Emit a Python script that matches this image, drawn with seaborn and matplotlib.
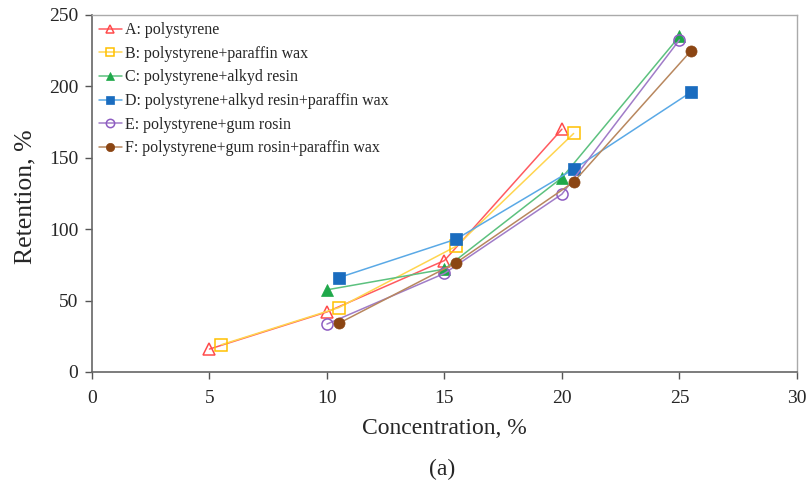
import matplotlib
matplotlib.use("Agg")
import matplotlib.pyplot as plt
import seaborn as sns
import pandas as pd

labels = ["A: polystyrene", "B: polystyrene+paraffin wax", "C: polystyrene+alkyd resin",
          "D: polystyrene+alkyd resin+paraffin wax", "E: polystyrene+gum rosin",
          "F: polystyrene+gum rosin+paraffin wax"]
x_A = [5, 10, 15, 20]
y_A = [16, 42, 78, 170]
x_B = [5.5, 10.5, 15.5, 20.5]
y_B = [19, 45, 88, 167]
x_C = [10, 15, 20, 25]
y_C = [57.5, 72, 136, 235]
x_D = [10.5, 15.5, 20.5, 25.5]
y_D = [66, 93, 142, 196]
x_E = [10, 15, 20, 25]
y_E = [33.5, 69, 124.5, 232.5]
x_F = [10.5, 15.5, 20.5, 25.5]
y_F = [34, 76.5, 133, 225]

xs = [x_A, x_B, x_C, x_D, x_E, x_F]
ys = [y_A, y_B, y_C, y_D, y_E, y_F]

line_colors = ["#FF5A5F", "#FFD54F", "#5CC17F", "#5AA9E6", "#A07CC8", "#B8875E"]
mk_colors = ["#FF4B4B", "#FFC000", "#1FA84A", "#1A6CBF", "#8E5CC2", "#8B4513"]
markers = ["^", "s", "^", "s", "o", "o"]
filled = [False, False, True, True, False, True]

sns.set_theme(style="white")
plt.rcParams["font.family"] = ["Liberation Serif", "DejaVu Serif"]

fig = plt.figure(figsize=(8.09, 4.83), dpi=100)
ax = fig.add_axes([0.1137, 0.23, 0.8713, 0.739])

for i in range(6):
    df = pd.DataFrame({"x": xs[i], "y": ys[i]})
    sns.lineplot(data=df, x="x", y="y", ax=ax, color=line_colors[i], linewidth=1.1,
                 marker=markers[i], markersize=8,
                 markerfacecolor=mk_colors[i] if filled[i] else "none",
                 markeredgecolor=mk_colors[i], markeredgewidth=1.1 if not filled[i] else 0.5,
                 label=labels[i], sort=False)

ax.set_xlim(0, 30)
ax.set_ylim(0, 250)
ax.set_xticks(range(0, 31, 5))
ax.set_yticks(range(0, 251, 50))
ax.tick_params(axis="both", labelsize=14, direction="out", length=5, width=1,
               color="#555555", bottom=True, left=True)
ax.tick_params(axis="x", pad=8)
ax.tick_params(axis="y", pad=5)
for s in ["left", "bottom"]:
    ax.spines[s].set_color("#666666")
    ax.spines[s].set_linewidth(1.2)
for s in ["top", "right"]:
    ax.spines[s].set_color("#AAAAAA")
    ax.spines[s].set_linewidth(1.0)
ax.set_xlabel("Concentration, %", fontsize=17, labelpad=8)
ax.set_ylabel("Retention, %", fontsize=18.5)
ax.yaxis.set_label_coords(-0.079, 0.49)
ax.grid(False)

leg = ax.legend(loc="upper left", frameon=False, fontsize=11.5, handlelength=1.4,
                handletextpad=0.2, labelspacing=0.48, markerscale=0.75,
                borderaxespad=0.25, borderpad=0.2, bbox_to_anchor=(0.0, 1.0))

fig.text(0.546, 0.028, "(a)", ha="center", va="center", fontsize=17)

fig.savefig("out.png", dpi=100)
